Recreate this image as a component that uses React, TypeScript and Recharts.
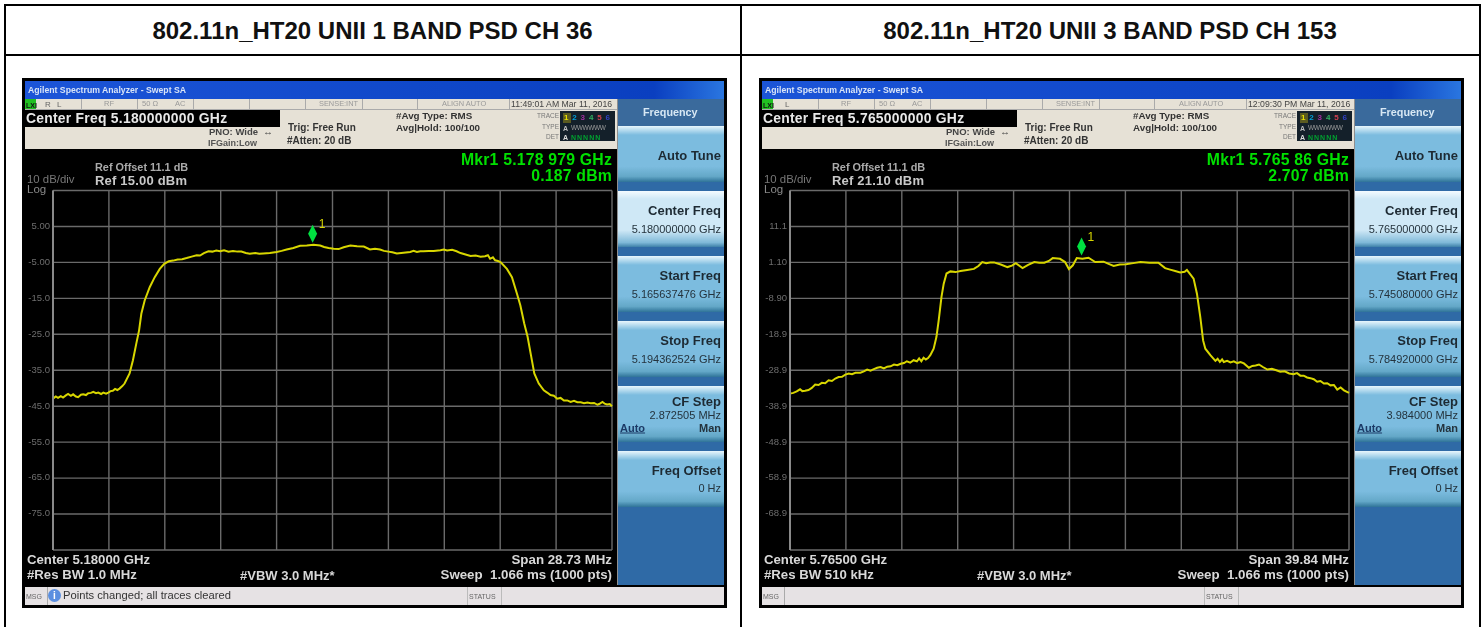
import { LineChart, Line, XAxis, YAxis, CartesianGrid, ReferenceDot } from 'recharts';

// sweep point (0-1000) and level (dBm), grouped by stretch of the curve
const pointsA = [
  0, 5, 9, 14, 18, 23, 27, 32, 36, 41, 45, 50, 54, 59, 63, 68, 72, 77, 81, 86, 90, 95, 99, 103, 107, 111, 115, 119, 124,
  128, 137, 143, 149, 154, 158, 164, 173, 182, 191,
  199, 207, 215, 223, 231, 239, 248, 257, 263, 270, 278, 285, 292, 299, 306, 314, 322, 330, 337, 345, 352, 362, 369, 376, 388,
  400, 409, 418, 430, 442, 454, 466, 478, 485, 493, 502, 511, 520, 532, 544, 556, 567, 576, 585, 592,
  600, 607, 615, 627, 639, 645, 651, 657, 663, 672, 681, 693, 699, 705, 714, 722, 729, 738, 747, 756, 765, 773, 778, 782, 787, 791, 796,
  801, 812, 821, 830, 836, 843, 849, 855, 861, 869, 878, 884, 890, 896,
  902, 908, 914, 920, 926, 932, 938, 944, 950, 956, 962, 968, 974, 977, 983, 987, 991, 996, 1000,
];
const levelsA = [
  -42.9, -42.3, -42.7, -42.2, -42.6, -42.0, -41.6, -42.1, -41.7, -42.3, -42.5, -41.8, -41.7, -41.9, -41.4, -41.3, -41.0, -41.4, -41.2, -41.6, -41.2, -41.5, -41.2, -40.8, -40.7, -40.2, -40.5, -40.1, -39.4,
  -38.7, -35.9, -32.2, -27.6, -23.9, -19.3, -15.6, -11.9, -9.1, -6.8,
  -5.4, -4.7, -4.5, -4.2, -4.1, -3.8, -3.4, -3.0, -3.1, -2.4, -1.9, -2.0, -1.7, -1.9, -1.6, -2.0, -1.8, -2.0, -2.0, -2.4, -2.6, -2.4, -2.6, -2.5, -2.4,
  -2.1, -1.8, -1.4, -1.0, -0.4, -0.3, -0.1, -0.3, -0.7, -1.0, -1.2, -1.3, -0.8, -0.3, -0.5, -0.6, -1.4, -1.2, -1.4, -1.8,
  -2.0, -2.2, -2.5, -2.3, -2.1, -1.8, -2.1, -1.9, -1.9, -1.8, -1.8, -1.6, -1.4, -1.7, -1.5, -1.9, -2.4, -2.8, -3.2, -3.1, -3.4, -3.3, -3.0, -4.0, -3.6, -4.4, -4.6,
  -5.0, -6.8, -9.1, -13.7, -16.9, -22.0, -25.7, -30.8, -35.9, -38.7, -40.6, -41.2, -41.9, -42.1,
  -42.9, -42.7, -43.4, -43.4, -43.8, -43.5, -43.9, -43.9, -44.2, -44.0, -44.2, -44.1, -44.6, -44.4, -43.8, -44.3, -44.5, -44.4, -45.0,
];
const pointsB = [
  0, 6, 12, 18, 22, 27, 33, 39, 45, 51, 57, 63, 69, 75, 81, 87, 93, 99, 105, 111, 117, 126, 132, 138, 144, 150, 156, 162, 168, 174, 180, 186, 192, 198, 204, 209, 215, 221, 227, 231, 235, 239, 243, 247,
  251, 257, 262, 266, 271, 275, 280, 287, 296, 305, 317, 329, 337, 344, 351, 358, 365, 377, 389, 397, 404, 416, 426, 437, 446, 455, 463, 470,
  483, 492, 499, 506, 513, 523, 534, 546, 561, 570, 579, 590, 601, 614, 627, 643, 659,
  671, 680, 689, 698, 706, 710, 713, 722, 728, 734, 739, 743, 752,
  761, 765, 769, 773, 776, 782, 788, 794, 800, 806, 812, 821, 827, 833, 839, 846, 854, 862, 870, 877, 885, 893, 901, 907, 913, 919, 925, 931, 937, 943, 949, 955, 961, 967, 973, 979, 985, 991, 1000,
];
const levelsB = [
  -35.4, -35.2, -34.8, -34.2, -34.7, -34.6, -34.4, -33.8, -32.9, -33.0, -32.4, -32.5, -31.7, -31.9, -31.2, -30.8, -30.7, -30.1, -29.8, -30.0, -29.6, -29.6, -29.2, -28.7, -29.0, -28.6, -28.2, -28.0, -28.4, -27.9, -27.8, -27.3, -27.5, -27.1, -26.9, -26.4, -26.8, -26.1, -26.4, -25.6, -26.4, -25.4, -25.9, -25.5,
  -24.7, -22.9, -19.6, -15.0, -8.5, -4.8, -2.0, -1.4, -1.6, -1.3, -1.0, -0.7, 0.1, 1.2, 0.9, 1.1, 1.1, 0.5, -0.2, 0.2, 0.9, -0.5, 0.4, 1.2, 1.0, 1.0, 1.5, 2.3,
  2.1, 1.2, -0.75, 0.3, 2.3, 2.1, 2.4, 1.2, 1.3, 0.7, 0.1, 0.5, 0.6, 0.9, 1.2, 1.0, 1.0,
  -0.5, -0.9, -1.3, -1.7, -1.5, -1.0, -1.6, -3.4, -7.6, -14.1, -20.6, -22.9, -24.7,
  -26.3, -25.7, -26.6, -25.9, -26.6, -26.3, -26.7, -26.4, -26.9, -26.6, -27.0, -28.2, -27.7, -27.6, -27.3, -28.0, -28.7, -28.5, -28.9, -29.3, -29.2, -29.8, -30.0, -29.7, -30.4, -30.4, -30.9, -31.1, -31.4, -32.1, -31.9, -32.6, -32.5, -33.1, -33.0, -34.3, -33.7, -34.5, -35.2,
];

const xTicks = [0, 100, 200, 300, 400, 500, 600, 700, 800, 900, 1000];
const yTicksA = [15, 5, -5, -15, -25, -35, -45, -55, -65, -75, -85];
const yLabelsA = ['', '5.00', '-5.00', '-15.0', '-25.0', '-35.0', '-45.0', '-55.0', '-65.0', '-75.0', ''];
const yTicksB = [21.1, 11.1, 1.1, -8.9, -18.9, -28.9, -38.9, -48.9, -58.9, -68.9, -78.9];
const yLabelsB = ['', '11.1', '1.10', '-8.90', '-18.9', '-28.9', '-38.9', '-48.9', '-58.9', '-68.9', ''];

const FONT = '"Liberation Sans", Arial, sans-serif';

function Txt({ x, y, size = 10, bold, color = '#222', right, children, spacing }: any) {
  return (
    <div
      style={{
        position: 'absolute',
        top: y,
        ...(right ? { right: 705 - x } : { left: x }),
        fontSize: size,
        lineHeight: 1,
        fontWeight: bold ? 700 : 400,
        color,
        whiteSpace: 'pre',
        letterSpacing: spacing,
        transform: 'translateY(-50%)',
      }}
    >
      {children}
    </div>
  );
}

function Box({ x, y, w, h, bg }: any) {
  return <div style={{ position: 'absolute', left: x, top: y, width: w, height: h, background: bg }} />;
}

function Softkey({ y, h, light, title, titleY }: any) {
  const bg = light
    ? 'linear-gradient(#f4fbff 0, #cfe8f6 8px, #cfe8f6 70%, #7fb9d8 92%, #3d80a8 100%)'
    : 'linear-gradient(#e8f6fc 0, #7cbcdf 9px, #7cbcdf 72%, #64a8c8 90%, #2f7398 100%)';
  return (
    <>
      <Box x={596} y={y} w={106} h={h} bg={bg} />
      <Txt x={699} right y={y + titleY} size={13} bold color="#1d2a33">{title}</Txt>
    </>
  );
}

function Screen({ left, s }: any) {
  const data = s.points.map((p: number, i: number) => ({ point: p, level: s.levels[i] }));
  return (
    <div style={{ position: 'absolute', left, top: 78, width: 705, height: 530, background: '#000', fontFamily: FONT, overflow: 'hidden', filter: 'blur(0.45px)' }}>
      {/* window title */}
      <Box x={3} y={3} w={699} h={18} bg="linear-gradient(90deg, #1c55d8 0, #0f47c8 60%, #0a3fc0 90%, #2a76e0 100%)" />
      <Txt x={6} y={12} size={8.7} bold color="#d8e4f8">Agilent Spectrum Analyzer - Swept SA</Txt>

      {/* status strip */}
      <Box x={3} y={21} w={592} h={50} bg="#e6e1d6" />
      <Box x={3} y={21} w={11} h={11} bg="#22c022" />
      <Txt x={4} y={26.5} size={7} bold color="#111">LXI</Txt>
      <Txt x={s.couplingX} y={26.5} size={8} color="#666" spacing={2}>{s.coupling}</Txt>
      <Txt x={82} y={26} size={7.5} color="#999">RF</Txt>
      <Txt x={120} y={26} size={7.5} color="#999">50 Ω</Txt>
      <Txt x={153} y={26} size={7.5} color="#999">AC</Txt>
      <Txt x={297} y={26} size={7.4} color="#999">SENSE:INT</Txt>
      <Txt x={420} y={26} size={7.4} color="#999">ALIGN AUTO</Txt>
      <Txt x={489} y={26} size={8.7} color="#444">{s.clock}</Txt>
      {[59, 115, 171, 227, 283, 340, 395, 487].map((x) => (
        <Box key={x} x={x} y={21} w={1} h={10} bg="#aaa" />
      ))}
      <Box x={3} y={31} w={592} h={1} bg="#aaa" />
      <Box x={3} y={32} w={255} h={17} bg="#000" />
      <Txt x={4} y={41} size={13.9} bold color="#e8e8e8" spacing={0.25}>{'Center Freq ' + s.center}</Txt>
      <Txt x={187} y={54} size={9.5} bold color="#444">PNO: Wide  ↔</Txt>
      <Txt x={186} y={64.5} size={9} bold color="#555">IFGain:Low</Txt>
      <Txt x={266} y={50} size={10} bold color="#333">Trig: Free Run</Txt>
      <Txt x={265} y={63} size={10} bold color="#333">#Atten: 20 dB</Txt>
      <Txt x={374} y={38} size={9.8} bold color="#333">#Avg Type: RMS</Txt>
      <Txt x={374} y={50} size={9.8} bold color="#333">Avg|Hold: 100/100</Txt>
      <Txt x={537} right y={38} size={6.5} color="#777">TRACE</Txt>
      <Txt x={537} right y={49} size={6.5} color="#777">TYPE</Txt>
      <Txt x={537} right y={59} size={6.5} color="#777">DET</Txt>
      <Box x={538} y={33} w={55} h={30} bg="#14202a" />
      <Box x={541} y={35} w={8} h={10} bg="#5a5a20" />
      {['1', '2', '3', '4', '5', '6'].map((n, i) => (
        <Txt key={n} x={542 + i * 8.3} y={40} size={8} bold color={['#e8e000', '#00a0d8', '#a030a0', '#30b060', '#d04050', '#3040c0'][i]}>{n}</Txt>
      ))}
      <Txt x={541} y={50} size={7} bold color="#bbb">A</Txt>
      <Txt x={549} y={50} size={6.5} color="#999" spacing={-0.4}>WWWWWW</Txt>
      <Txt x={541} y={59} size={7} bold color="#ddd">A</Txt>
      <Txt x={549} y={59} size={7} bold color="#00a030" spacing={1}>NNNNN</Txt>

      {/* marker and reference readouts */}
      <Txt x={590} right y={82} size={15.8} bold color="#00e000" spacing={0.2}>{s.mkrFreq}</Txt>
      <Txt x={590} right y={98} size={15.8} bold color="#00e000" spacing={0.2}>{s.mkrLevel}</Txt>
      <Txt x={73} y={89} size={10.9} bold color="#aaa">Ref Offset 11.1 dB</Txt>
      <Txt x={73} y={102} size={13} bold color="#c8c8c8" spacing={0.2}>{s.ref}</Txt>
      <Txt x={5} y={102} size={11.4} color="#777">10 dB/div</Txt>
      <Txt x={5} y={112} size={11.5} color="#888">Log</Txt>

      <div style={{ position: 'absolute', left: 0, top: 105 }}>
        <LineChart width={592} height={375} data={data} margin={{ top: 7.5, right: 2, bottom: 8, left: 0 }}>
          <CartesianGrid stroke="#6a6a6a" strokeWidth={1.4} />
          <XAxis dataKey="point" type="number" domain={[0, 1000]} ticks={xTicks} hide />
          <YAxis
            width={31}
            type="number"
            domain={[s.yTicks[10], s.yTicks[0]]}
            ticks={s.yTicks}
            interval={0}
            tickFormatter={(v: number) => s.yLabels[s.yTicks.indexOf(v)]}
            axisLine={{ stroke: '#8a8a8a', strokeWidth: 2 }}
            tickLine={false}
            tickSize={0}
            tickMargin={3}
            tick={{ fill: '#6e6e6e', fontSize: 9.5, dy: -1 }}
          />
          <Line dataKey="level" stroke="#d8d600" strokeWidth={2} dot={false} isAnimationActive={false} />
          <ReferenceDot
            x={s.marker[0]}
            y={s.marker[1]}
            shape={(p: any) => (
              <g>
                <path d={`M${p.cx} ${p.cy - 19}L${p.cx + 4.5} ${p.cy - 10}L${p.cx} ${p.cy - 1}L${p.cx - 4.5} ${p.cy - 10}Z`} fill="#00e040" />
                <text x={p.cx + 6} y={p.cy - 16} fill="#d6d400" fontSize={12}>1</text>
              </g>
            )}
          />
        </LineChart>
      </div>

      {/* bottom readouts */}
      <Txt x={5} y={482} size={13.2} bold color="#d8d8d8">{'Center ' + s.centerShort}</Txt>
      <Txt x={5} y={497} size={13.2} bold color="#d8d8d8">{s.rbw}</Txt>
      <Txt x={218} y={497} size={13} bold color="#d8d8d8">#VBW 3.0 MHz*</Txt>
      <Txt x={590} right y={482} size={13.3} bold color="#d8d8d8">{s.span}</Txt>
      <Txt x={590} right y={497} size={13.3} bold color="#d8d8d8">Sweep  1.066 ms (1000 pts)</Txt>

      {/* softkey column */}
      <Box x={595} y={21} w={2} h={486} bg="#8f8f8f" />
      <Box x={596} y={21} w={106} h={486} bg="#2f6aa6" />
      <Box x={596} y={21} w={106} h={27} bg="#3a6a9c" />
      <Txt x={621} y={34} size={10.8} bold color="#d8e8f4">Frequency</Txt>
      <Softkey y={48} h={56} titleY={29} title="Auto Tune" />
      <Softkey y={113} h={56} titleY={19} light title="Center Freq" />
      <Txt x={699} right y={151} size={11} color="#24333d">{s.centerFreq}</Txt>
      <Softkey y={178} h={56} titleY={19} title="Start Freq" />
      <Txt x={699} right y={216} size={11} color="#24333d">{s.startFreq}</Txt>
      <Softkey y={243} h={56} titleY={19} title="Stop Freq" />
      <Txt x={699} right y={281} size={11} color="#24333d">{s.stopFreq}</Txt>
      <Softkey y={308} h={56} titleY={15} title="CF Step" />
      <Txt x={699} right y={337} size={11} color="#24333d">{s.cfStep}</Txt>
      <Txt x={598} y={350} size={11} bold color="#1c3a66">
        <span style={{ textDecoration: 'underline' }}>Auto</span>
      </Txt>
      <Txt x={699} right y={350} size={11} bold color="#24333d">Man</Txt>
      <Softkey y={373} h={56} titleY={19} title="Freq Offset" />
      <Txt x={699} right y={410} size={11} color="#24333d">0 Hz</Txt>

      {/* message bar */}
      <Box x={3} y={509} w={699} h={18} bg="#e6e2e4" />
      <Box x={25} y={509} w={1} h={18} bg="#aaa" />
      <Box x={445} y={509} w={1} h={18} bg="#bbb" />
      <Box x={479} y={509} w={1} h={18} bg="#bbb" />
      <Txt x={4} y={518} size={7} color="#666">MSG</Txt>
      <Txt x={447} y={518} size={7} color="#666">STATUS</Txt>
      {s.msg ? (
        <>
          <div style={{ position: 'absolute', left: 26, top: 511, width: 13, height: 13, borderRadius: 7, background: '#5b8fe0', color: '#fff', fontSize: 10, fontWeight: 700, textAlign: 'center', lineHeight: '13px' }}>i</div>
          <Txt x={41} y={518} size={11.2} color="#333">{s.msg}</Txt>
        </>
      ) : null}
    </div>
  );
}

const left = {
  points: pointsA, levels: levelsA, yTicks: yTicksA, yLabels: yLabelsA, marker: [464.5, 0.187],
  coupling: 'R L', couplingX: 23, clock: '11:49:01 AM Mar 11, 2016', center: '5.180000000 GHz', centerShort: '5.18000 GHz',
  mkrFreq: 'Mkr1 5.178 979 GHz', mkrLevel: '0.187 dBm', ref: 'Ref 15.00 dBm', rbw: '#Res BW 1.0 MHz', span: 'Span 28.73 MHz',
  centerFreq: '5.180000000 GHz', startFreq: '5.165637476 GHz', stopFreq: '5.194362524 GHz', cfStep: '2.872505 MHz', msg: 'Points changed; all traces cleared',
};
const right = {
  points: pointsB, levels: levelsB, yTicks: yTicksB, yLabels: yLabelsB, marker: [521.6, 2.707],
  coupling: 'L', couplingX: 26, clock: '12:09:30 PM Mar 11, 2016', center: '5.765000000 GHz', centerShort: '5.76500 GHz',
  mkrFreq: 'Mkr1 5.765 86 GHz', mkrLevel: '2.707 dBm', ref: 'Ref 21.10 dBm', rbw: '#Res BW 510 kHz', span: 'Span 39.84 MHz',
  centerFreq: '5.765000000 GHz', startFreq: '5.745080000 GHz', stopFreq: '5.784920000 GHz', cfStep: '3.984000 MHz', msg: '',
};

export default function App() {
  return (
    <div style={{ position: 'absolute', left: 0, top: 0, width: 1484, height: 627, background: '#fff', overflow: 'hidden' }}>
      <Box x={3.5} y={4} w={1477} h={2} bg="#000" />
      <Box x={3.5} y={54} w={1477} h={2} bg="#000" />
      <Box x={3.5} y={4} w={2} h={623} bg="#000" />
      <Box x={740} y={4} w={2} h={623} bg="#000" />
      <Box x={1479} y={4} w={2} h={623} bg="#000" />
      <div style={{ position: 'absolute', left: 4, width: 737, top: 6, height: 48, lineHeight: '50px', textAlign: 'center', fontFamily: FONT, fontWeight: 700, fontSize: 24, color: '#111', whiteSpace: 'pre' }}>
        802.11n_HT20 UNII 1 BAND PSD CH 36
      </div>
      <div style={{ position: 'absolute', left: 741, width: 738, top: 6, height: 48, lineHeight: '50px', textAlign: 'center', fontFamily: FONT, fontWeight: 700, fontSize: 24, color: '#111', whiteSpace: 'pre' }}>
        802.11n_HT20 UNII 3 BAND PSD CH 153
      </div>
      <Screen left={22} s={left} />
      <Screen left={759} s={right} />
    </div>
  );
}
